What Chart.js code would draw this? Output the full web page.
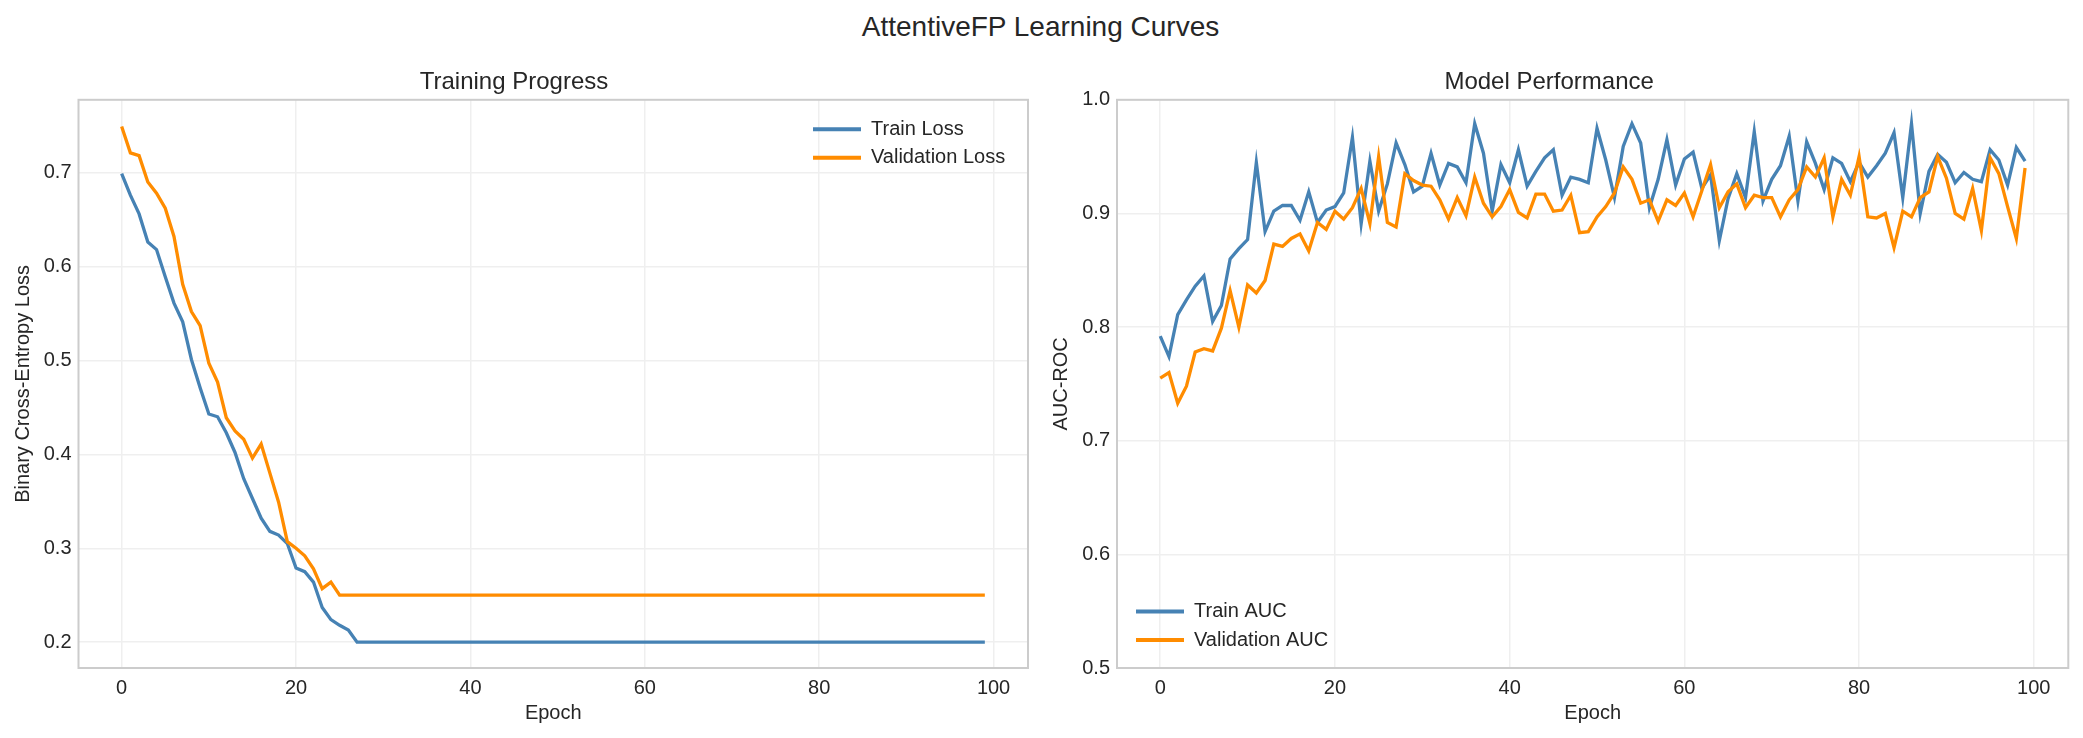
<!DOCTYPE html>
<html>
<head>
<meta charset="utf-8">
<script src="https://cdn.jsdelivr.net/npm/chart.js@4.4.0/dist/chart.umd.min.js"></script>
<style>
  body { margin: 0; background: #fff; width: 2083px; height: 738px; overflow: hidden; position: relative; font-family: 'Liberation Sans', Arial, sans-serif; }
  #suptitle { position: absolute; left: 0; width: 2081px; top: 10px; text-align: center; font-size: 28px; line-height: 34px; color: #262626; }
  #lossChart { position: absolute; left: 0; top: 0; }
  #aucChart { position: absolute; left: 1030px; top: 0; }
</style>
</head>
<body>
<div id="suptitle">AttentiveFP Learning Curves</div>
<canvas id="lossChart" width="1030" height="738"></canvas>
<canvas id="aucChart" width="1053" height="738"></canvas>
<script>
const epochs = Array.from({length: 100}, (_, i) => i);
const xTicks = [0, 20, 40, 60, 80, 100];
const lossTicks = [0.2, 0.3, 0.4, 0.5, 0.6, 0.7];
const aucTicks = [0.5, 0.6, 0.7, 0.8, 0.9, 1.0];

const trainLoss = [
  0.699, 0.676, 0.656, 0.626, 0.618, 0.589, 0.561, 0.541, 0.501, 0.471,
  0.443, 0.440, 0.423, 0.402, 0.374, 0.353, 0.332, 0.318, 0.314, 0.305,
  0.279, 0.275, 0.264, 0.237, 0.224, 0.218, 0.213, 0.200, 0.200, 0.200,
  0.200, 0.200, 0.200, 0.200, 0.200, 0.200, 0.200, 0.200, 0.200, 0.200,
  0.200, 0.200, 0.200, 0.200, 0.200, 0.200, 0.200, 0.200, 0.200, 0.200,
  0.200, 0.200, 0.200, 0.200, 0.200, 0.200, 0.200, 0.200, 0.200, 0.200,
  0.200, 0.200, 0.200, 0.200, 0.200, 0.200, 0.200, 0.200, 0.200, 0.200,
  0.200, 0.200, 0.200, 0.200, 0.200, 0.200, 0.200, 0.200, 0.200, 0.200,
  0.200, 0.200, 0.200, 0.200, 0.200, 0.200, 0.200, 0.200, 0.200, 0.200,
  0.200, 0.200, 0.200, 0.200, 0.200, 0.200, 0.200, 0.200, 0.200, 0.200
];
const valLoss = [
  0.749, 0.721, 0.718, 0.690, 0.678, 0.662, 0.632, 0.581, 0.552, 0.537,
  0.497, 0.477, 0.439, 0.425, 0.416, 0.396, 0.411, 0.380, 0.349, 0.307,
  0.300, 0.292, 0.278, 0.257, 0.264, 0.250, 0.250, 0.250, 0.250, 0.250,
  0.250, 0.250, 0.250, 0.250, 0.250, 0.250, 0.250, 0.250, 0.250, 0.250,
  0.250, 0.250, 0.250, 0.250, 0.250, 0.250, 0.250, 0.250, 0.250, 0.250,
  0.250, 0.250, 0.250, 0.250, 0.250, 0.250, 0.250, 0.250, 0.250, 0.250,
  0.250, 0.250, 0.250, 0.250, 0.250, 0.250, 0.250, 0.250, 0.250, 0.250,
  0.250, 0.250, 0.250, 0.250, 0.250, 0.250, 0.250, 0.250, 0.250, 0.250,
  0.250, 0.250, 0.250, 0.250, 0.250, 0.250, 0.250, 0.250, 0.250, 0.250,
  0.250, 0.250, 0.250, 0.250, 0.250, 0.250, 0.250, 0.250, 0.250, 0.250
];
const trainAuc = [
  0.792, 0.774, 0.811, 0.824, 0.836, 0.845, 0.805, 0.819, 0.860, 0.869,
  0.877, 0.945, 0.884, 0.902, 0.907, 0.907, 0.894, 0.919, 0.892, 0.903,
  0.906, 0.918, 0.967, 0.891, 0.946, 0.902, 0.926, 0.962, 0.943, 0.919,
  0.924, 0.953, 0.925, 0.944, 0.941, 0.927, 0.979, 0.953, 0.902, 0.943,
  0.927, 0.956, 0.924, 0.937, 0.949, 0.956, 0.916, 0.932, 0.930, 0.927,
  0.975, 0.947, 0.914, 0.959, 0.979, 0.962, 0.905, 0.930, 0.965, 0.925,
  0.948, 0.954, 0.922, 0.934, 0.876, 0.913, 0.935, 0.914, 0.972, 0.911,
  0.930, 0.942, 0.968, 0.911, 0.963, 0.944, 0.921, 0.949, 0.944, 0.928,
  0.945, 0.932, 0.942, 0.953, 0.971, 0.914, 0.979, 0.900, 0.937, 0.952,
  0.945, 0.927, 0.936, 0.930, 0.928, 0.956, 0.947, 0.925, 0.958, 0.946
];
const valAuc = [
  0.755, 0.760, 0.733, 0.748, 0.778, 0.781, 0.779, 0.799, 0.832, 0.800,
  0.837, 0.830, 0.841, 0.873, 0.871, 0.878, 0.882, 0.867, 0.892, 0.886,
  0.902, 0.895, 0.905, 0.922, 0.891, 0.950, 0.892, 0.888, 0.935, 0.929,
  0.925, 0.924, 0.912, 0.895, 0.914, 0.898, 0.932, 0.909, 0.897, 0.906,
  0.921, 0.901, 0.896, 0.917, 0.917, 0.902, 0.903, 0.916, 0.883, 0.884,
  0.897, 0.906, 0.918, 0.941, 0.930, 0.909, 0.912, 0.893, 0.912, 0.907,
  0.918, 0.897, 0.920, 0.943, 0.905, 0.919, 0.926, 0.905, 0.916, 0.914,
  0.914, 0.897, 0.912, 0.921, 0.941, 0.932, 0.949, 0.897, 0.930, 0.916,
  0.950, 0.897, 0.896, 0.900, 0.870, 0.902, 0.897, 0.914, 0.919, 0.950,
  0.931, 0.900, 0.895, 0.922, 0.885, 0.949, 0.935, 0.906, 0.878, 0.940
];

Chart.defaults.font.family = "'Liberation Sans', Arial, sans-serif";
Chart.defaults.font.size = 20;
Chart.defaults.color = '#262626';

// spines all round the plot area, like matplotlib
const plotFrame = {
  id: 'plotFrame',
  afterDraw(chart) {
    const {ctx, chartArea: a} = chart;
    ctx.save();
    ctx.strokeStyle = '#cccccc';
    ctx.lineWidth = 2;
    ctx.strokeRect(a.left, a.top, a.right - a.left, a.bottom - a.top);
    ctx.restore();
  }
};

// put the legend box inside the plot area at a fixed spot
const legendInside = {
  id: 'legendInside',
  afterLayout(chart, args, opts) {
    const lg = chart.legend;
    lg.left = opts.x;
    lg.top = opts.y;
    lg.width = 340;
    lg.height = 120;
    lg.right = opts.x + 340;
    lg.bottom = opts.y + 120;
  }
};

function series(label, values, color, order) {
  return {
    label: label,
    data: epochs.map((e, i) => ({x: e, y: values[i]})),
    borderColor: color,
    backgroundColor: color,
    borderWidth: 3.3,
    pointRadius: 0,
    tension: 0,
    order: order
  };
}

function makeConfig(opt) {
  return {
    type: 'line',
    data: {
      datasets: [
        series(opt.names[0], opt.train, '#4682b4', 1),
        series(opt.names[1], opt.val, '#ff8c00', 0)
      ]
    },
    options: {
      responsive: false,
      animation: false,
      devicePixelRatio: 1,
      layout: {padding: {left: 0, right: opt.padRight, top: 0, bottom: 0}},
      plugins: {
        title: {
          display: true,
          text: opt.title,
          font: {size: 24, weight: 'normal'},
          color: '#262626',
          padding: {top: 67.5, bottom: 3.5}
        },
        legend: {
          display: true,
          position: 'chartArea',
          align: 'start',
          labels: {
            boxWidth: 48,
            boxHeight: 4,
            padding: 8.5,
            color: '#262626',
            font: {size: 20},
            sort: (a, b) => a.datasetIndex - b.datasetIndex,
            generateLabels: (chart) =>
              Chart.defaults.plugins.legend.labels.generateLabels(chart).map(l => ({...l, lineWidth: 0}))
          }
        },
        legendInside: {x: opt.legendX, y: opt.legendY},
        tooltip: {enabled: false}
      },
      scales: {
        x: {
          type: 'linear',
          min: -4.95,
          max: 103.95,
          afterBuildTicks: s => { s.ticks = xTicks.map(v => ({value: v})); },
          afterFit: s => { s.height = 70; },
          grid: {color: '#efefef', lineWidth: 1.5, drawTicks: false},
          border: {display: false},
          ticks: {padding: 8, callback: v => String(v)},
          title: {display: true, text: 'Epoch', padding: {top: 0, bottom: 12.5}}
        },
        y: {
          type: 'linear',
          min: opt.yMin,
          max: opt.yMax,
          afterBuildTicks: s => { s.ticks = opt.yTicks.map(v => ({value: v})); },
          afterFit: s => { s.width = opt.yWidth; },
          grid: {color: '#efefef', lineWidth: 1.5, drawTicks: false},
          border: {display: false},
          ticks: {padding: 7, callback: v => v.toFixed(1)},
          title: {display: true, text: opt.yTitle, padding: {top: opt.yTitlePad, bottom: 0}}
        }
      }
    },
    plugins: [plotFrame, legendInside]
  };
}

function loadLossChart() {
  const config = makeConfig({
    names: ['Train Loss', 'Validation Loss'],
    train: trainLoss,
    val: valLoss,
    title: 'Training Progress',
    yTitle: 'Binary Cross-Entropy Loss',
    yMin: 0.1725,
    yMax: 0.7775,
    yTicks: lossTicks,
    yWidth: 78.5,
    yTitlePad: 11.5,
    padRight: 2,
    legendX: 804.5,
    legendY: 110.7
  });
  new Chart(document.getElementById('lossChart'), config);
}

function loadAucChart() {
  const config = makeConfig({
    names: ['Train AUC', 'Validation AUC'],
    train: trainAuc,
    val: valAuc,
    title: 'Model Performance',
    yTitle: 'AUC-ROC',
    yMin: 0.5,
    yMax: 1.0,
    yTicks: aucTicks,
    yWidth: 87,
    yTitlePad: 19,
    padRight: 14.7,
    legendX: 97.5,
    legendY: 593
  });
  new Chart(document.getElementById('aucChart'), config);
}

loadLossChart();
loadAucChart();
</script>
</body>
</html>
